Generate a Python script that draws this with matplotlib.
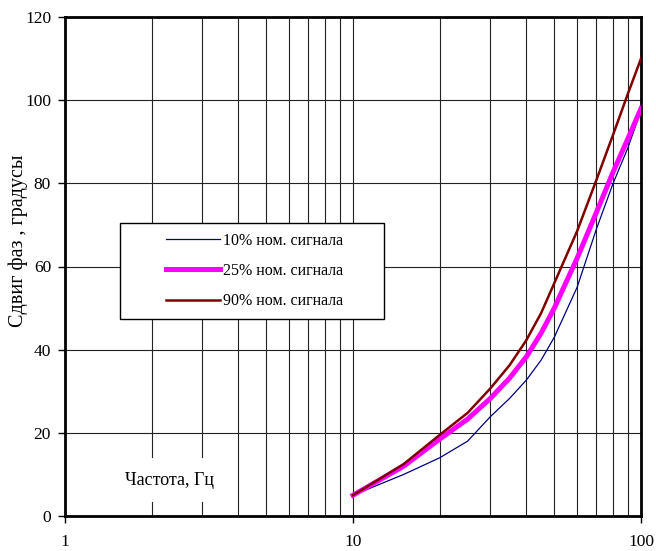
import matplotlib
matplotlib.use("Agg")
import matplotlib.pyplot as plt
from matplotlib.patches import Rectangle
from matplotlib.ticker import LogLocator, NullFormatter, FixedLocator

plt.rcParams['font.family'] = ['Liberation Serif', 'DejaVu Serif']

# frequency, Hz
freq = [10, 15, 20, 25, 30, 35, 40, 45, 50, 60, 70, 80, 90, 100]
# phase shift, degrees
shift_10 = [5, 10, 14, 18, 23.9, 28.3, 32.7, 37.5, 43, 55, 69, 80, 88.5, 97.5]
shift_25 = [5, 12, 18.5, 23.3, 28.3, 33.2, 38.3, 44, 50, 62, 73, 82.7, 90.7, 98]
shift_90 = [5, 12.5, 19.5, 24.8, 30.7, 36.3, 42.3, 48.8, 56, 68.5, 80.8, 91.7, 101.5, 110]

labels = ['10% ном. сигнала', '25% ном. сигнала', '90% ном. сигнала']

fig = plt.figure(figsize=(6.56, 5.51), dpi=100)
ax = fig.add_axes([65/656, 35/551, 576/656, 499/551])

ax.set_xscale('log')
ax.set_xlim(1, 100)
ax.set_ylim(0, 120)

# grid
ax.xaxis.set_major_locator(FixedLocator([1, 10, 100]))
ax.xaxis.set_minor_locator(LogLocator(base=10, subs=range(2, 10)))
ax.xaxis.set_minor_formatter(NullFormatter())
ax.set_xticklabels(['1', '10', '100'])
ax.set_yticks(range(0, 121, 20))
ax.grid(True, which='both', axis='x', color='#222222', lw=0.8)
ax.grid(True, which='major', axis='y', color='#222222', lw=0.8)
ax.set_axisbelow(True)

ax.tick_params(axis='x', which='major', length=5, width=1, pad=8, labelsize=12.5)
ax.tick_params(axis='x', which='minor', length=0)
ax.tick_params(axis='y', length=5, width=1, pad=5, labelsize=12.5)
for s in ax.spines.values():
    s.set_linewidth(2)
    s.set_color('black')

ax.plot(freq, shift_10, color='#000080', lw=0.9, label=labels[0], zorder=3)
ax.plot(freq, shift_25, color='#ff00ff', lw=3.6, label=labels[1], zorder=4)
ax.plot(freq, shift_90, color='#800000', lw=1.8, label=labels[2], zorder=5)

# legend box
ax.add_patch(Rectangle((0.0955, 0.395), 0.4585, 0.193, transform=ax.transAxes,
                       facecolor='white', edgecolor='black', lw=1, zorder=6))
leg = ax.legend(loc='upper left', bbox_to_anchor=(0.175, 0.568), frameon=False,
                fontsize=11.5, handlelength=3.4, handletextpad=0.2,
                labelspacing=0.9, borderpad=0, borderaxespad=0)
leg.set_zorder(7)

ax.text(0.1806, 0.072, 'Частота, Гц', transform=ax.transAxes, fontsize=13,
        ha='center', va='center', zorder=6,
        bbox=dict(boxstyle='square,pad=0.75', facecolor='white', edgecolor='none'))

fig.text(18/656, 1 - 241/551, 'Сдвиг фаз , градусы', rotation=90,
         ha='center', va='center', fontsize=14.5)

fig.savefig('out.png', dpi=100)
